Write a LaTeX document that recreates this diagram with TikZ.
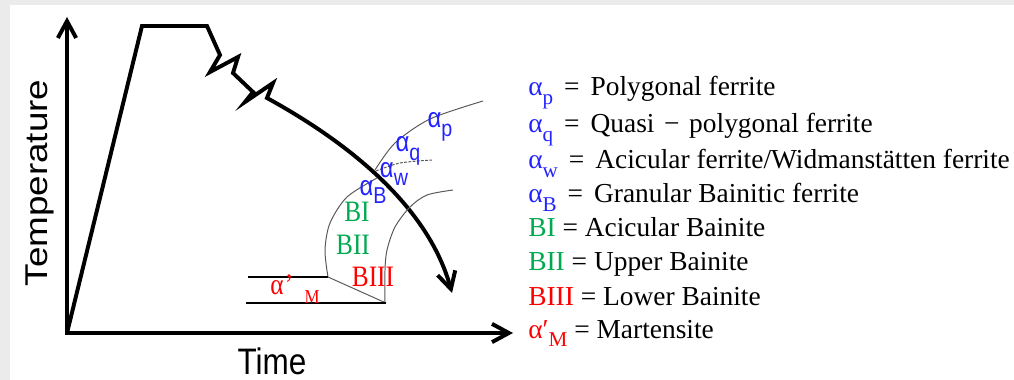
\documentclass[tikz,border=0pt]{standalone}
\usepackage{fontspec}
\setmainfont{Liberation Serif}
\setsansfont{Liberation Sans}
\usepackage{graphicx}
\usetikzlibrary{arrows.meta}
\definecolor{phaseblue}{RGB}{35,35,255}
\definecolor{phasegreen}{RGB}{0,170,80}
\definecolor{phasered}{RGB}{255,0,0}
\definecolor{framegray}{RGB}{235,235,235}
\newcommand{\tallbox}[1]{\scalebox{1}[1.17]{#1}}
\newcommand{\lowsub}[2][15]{\raisebox{-0.3em}{\fontsize{#1}{#1}\selectfont #2}}

\begin{document}
\begin{tikzpicture}[x=0.025cm,y=-0.025cm,
  axis/.style={line width=2.8pt,line join=miter,
    {Straight Barb[length=12pt,width=13pt]}-{Straight Barb[length=12pt,width=13pt]}},
  route/.style={line width=2.8pt,line join=miter,-{Straight Barb[length=12pt,width=13pt]}},
  ccurve/.style={line width=0.7pt,draw=black!65},
  mline/.style={line width=1.3pt},
  greek/.style={font=\sffamily\fontsize{17}{17}\selectfont,text=phaseblue,inner sep=0pt},
  roman/.style={font=\fontsize{18}{18}\selectfont,inner sep=0pt},
  axlabel/.style={font=\sffamily\fontsize{22.4}{22.4}\selectfont,inner sep=0pt,anchor=base},
  legend/.style={anchor=base west,font=\fontsize{19.5}{24}\selectfont,inner sep=0pt}]

% frame of the picture
\fill[framegray] (0,0) rectangle (1014,380);
\fill[white] (10,5) rectangle (1014,380);
\useasboundingbox (0,0) rectangle (1014,380);

% axes
\coordinate (O) at (67,333);
\coordinate (Ytip) at (67,17);
\coordinate (Xtip) at (513,333);
\draw[axis] (Ytip) -- (O) -- (Xtip);

% heating, holding, rolling passes and cooling path
\coordinate (Cstart) at (267,98);
\coordinate (Cend) at (452,293);
\draw[route] (O) -- (142,26) -- (207,26) -- (220,55) -- (210,72) -- (238,57)
  -- (233,73) -- (253,92) -- (245,102) -- (273,83) -- (Cstart)
  .. controls (327,131) and (425,195) .. (Cend);

% transformation curves
\draw[ccurve] plot[smooth] coordinates {(483,101) (430,119) (395,143) (375,170)};
\draw[ccurve] plot[smooth] coordinates {(377,178) (347,197) (330,223) (325,250) (328,277)};
\draw[ccurve,dash pattern=on 2pt off 1pt] plot[smooth] coordinates {(376,171) (400,163) (432,160)};
\draw[ccurve] plot[smooth] coordinates {(453,190) (427,195) (410,207) (395,227) (387,250) (385,270) (385,303)};

% martensite start and finish
\draw[mline] (248,277) -- (328,277);
\draw[ccurve] (328,277) -- (386,303);
\draw[mline] (246,303) -- (386,303);

% phase labels
\node[greek] (ap) at (440,127) {\tallbox{α\lowsub[14]{p}}};
\node[greek] (aq) at (408,151) {\tallbox{α\lowsub[14]{q}}};
\node[greek] (aw) at (394,174) {\tallbox{α\lowsub[14]{w}}};
\node[greek] (ab) at (373,192) {\tallbox{α\lowsub[14]{B}}};
\node[roman,text=phasegreen] (bone) at (357,212) {\tallbox{BI}};
\node[roman,text=phasegreen] (btwo) at (353,245) {\tallbox{BII}};
\node[roman,text=phasered] (bthree) at (373,277) {\tallbox{BIII}};
\node[roman,text=phasered] (am) at (295,289)
 {\tallbox{α\hspace{1pt}'\hspace{8pt}\lowsub[12]{M}}};

% axis labels
\node[axlabel,rotate=90] (temp) at (48,183) {\scalebox{1.17}[1]{Temperature}};
\node[axlabel] (time) at (272,374) {\tallbox{Time}};

% legend
\node[legend] (lp) at (528,96) {{\color{phaseblue}α\lowsub{p}}\hspace{0.4em}=\hspace{0.4em}Polygonal ferrite};
\node[legend] (lq) at (528,133) {{\color{phaseblue}α\lowsub{q}}\hspace{0.4em}=\hspace{0.4em}Quasi\hspace{0.35em}−\hspace{0.35em}polygonal ferrite};
\node[legend] (lw) at (528,169) {{\color{phaseblue}α\lowsub{w}}\hspace{0.4em}=\hspace{0.4em}Acicular ferrite/Widmanstätten ferrite};
\node[legend] (lb) at (528,203) {{\color{phaseblue}α\lowsub{B}}\hspace{0.4em}=\hspace{0.4em}Granular Bainitic ferrite};
\node[legend] (lone) at (528,237) {{\color{phasegreen}BI} = Acicular Bainite};
\node[legend] (ltwo) at (528,271) {{\color{phasegreen}BII} = Upper Bainite};
\node[legend] (lthree) at (528,305) {{\color{phasered}BIII} = Lower Bainite};
\node[legend] (lm) at (528,338) {{\color{phasered}α′\lowsub{M}} = Martensite};

\end{tikzpicture}
\end{document}
